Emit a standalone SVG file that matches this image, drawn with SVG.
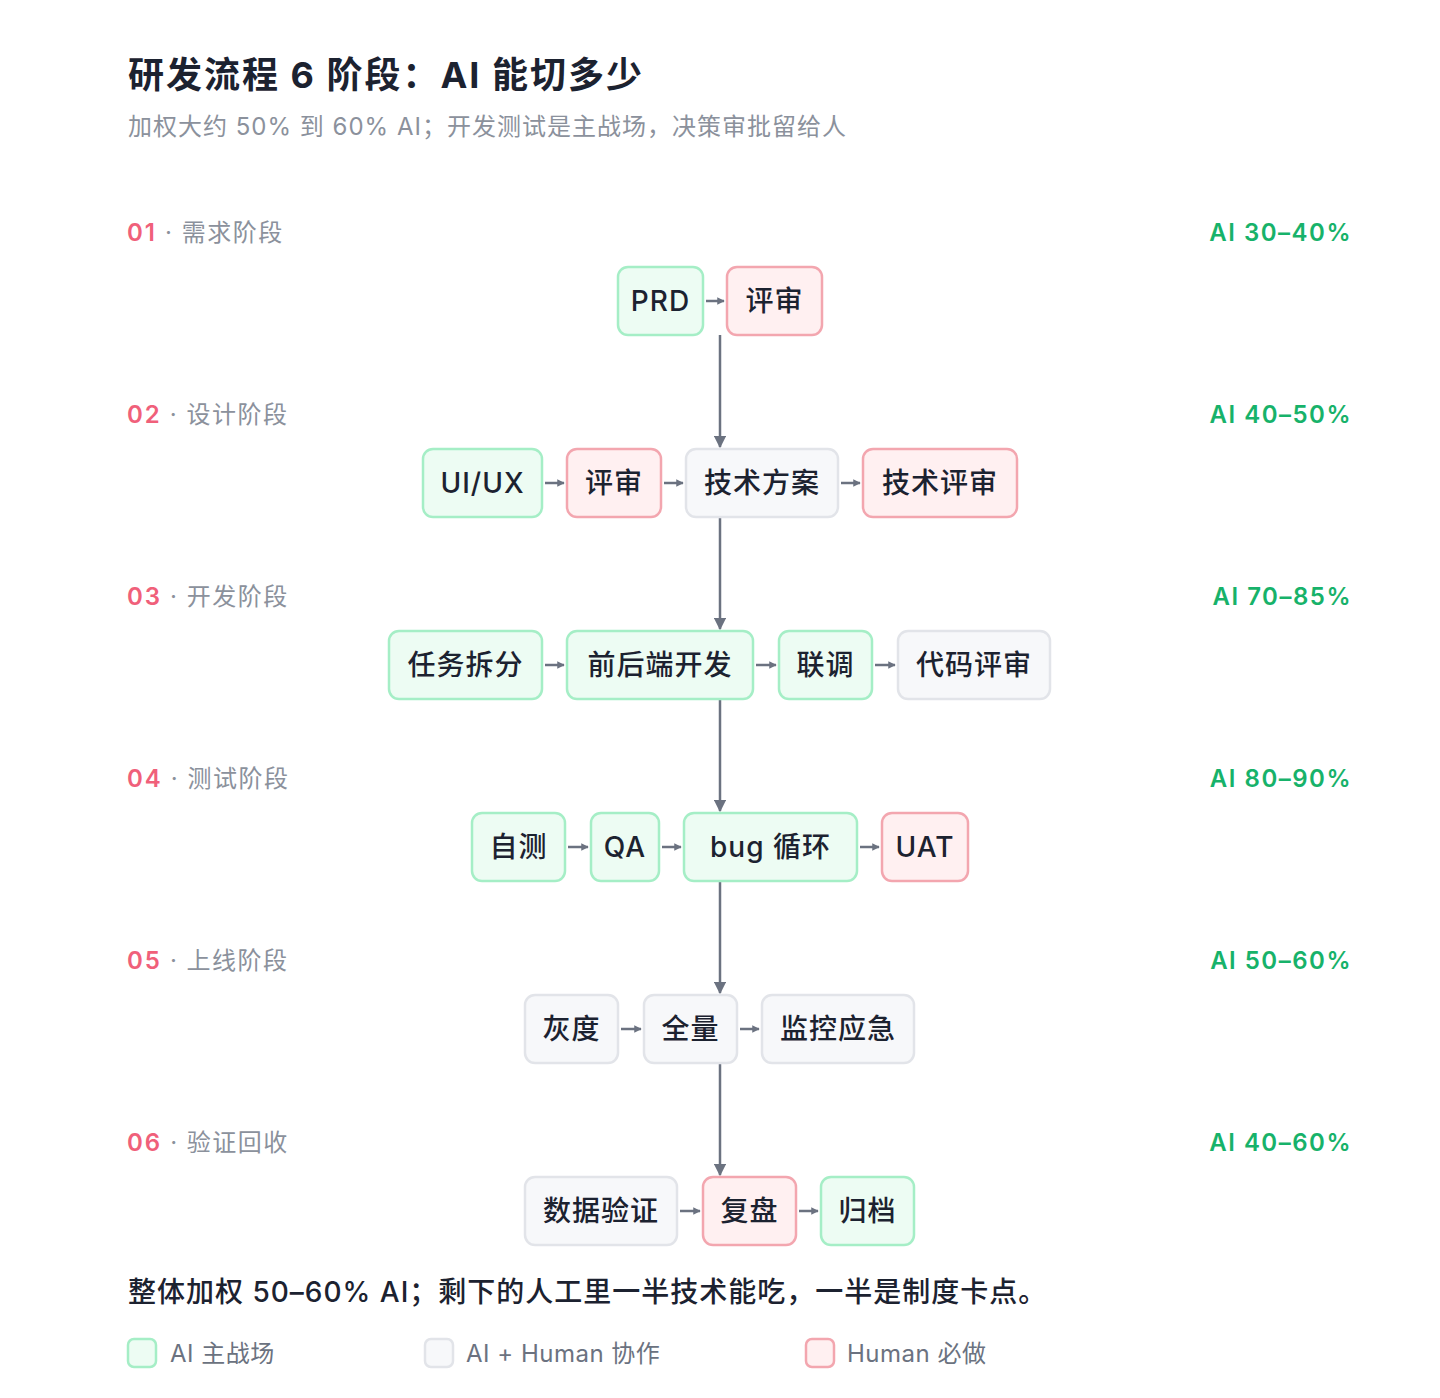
<svg xmlns="http://www.w3.org/2000/svg" width="1440" height="1398" viewBox="0 0 1440 1398">
<style>
text{font-family:Inter,"Noto Sans CJK SC","Noto Sans",sans-serif}
.g rect{fill:#edfcf3;stroke:#a5eec6;stroke-width:2.5}
.h rect{fill:#f7f8fa;stroke:#e2e4e9;stroke-width:2.5}
.r rect{fill:#fff0f1;stroke:#f3a6af;stroke-width:2.5}
.n text{font-size:28px;fill:#1c2230;text-anchor:middle;font-weight:500;letter-spacing:1px}
.num{font-size:24px;fill:#f0607a;font-weight:600;letter-spacing:2px}
.st{font-size:24px;fill:#8b919c;letter-spacing:1.5px}
.pct{font-size:24px;fill:#17b26a;font-weight:600;text-anchor:end;letter-spacing:1.5px}
.lg{font-size:24px;fill:#6b7280;letter-spacing:0.5px}
#conn line{stroke:#6b7280;stroke-width:2.5}
</style>
<defs>
<marker id="a" viewBox="0 0 10 10" refX="9" refY="5" markerWidth="5" markerHeight="5" orient="auto"><path d="M0,0L10,5L0,10z" fill="#6b7280"/></marker>
<marker id="b" viewBox="0 0 10 10" refX="9" refY="5" markerWidth="3" markerHeight="3" orient="auto"><path d="M0,0L10,5L0,10z" fill="#6b7280"/></marker>
</defs>
<rect width="1440" height="1398" fill="#fff"/>
<text x="128" y="88" font-size="36" font-weight="700" fill="#1c2230" letter-spacing="2">研发流程 6 阶段：AI 能切多少</text>
<text x="128" y="135" font-size="24" fill="#8b919c" letter-spacing="1">加权大约 50% 到 60% AI；开发测试是主战场，决策审批留给人</text>
<g id="stages">
<text x="127" y="241"><tspan class="num">01</tspan><tspan class="st" dx="8">·  需求阶段</tspan></text>
<text x="127" y="423"><tspan class="num">02</tspan><tspan class="st" dx="8">·  设计阶段</tspan></text>
<text x="127" y="605"><tspan class="num">03</tspan><tspan class="st" dx="8">·  开发阶段</tspan></text>
<text x="127" y="787"><tspan class="num">04</tspan><tspan class="st" dx="8">·  测试阶段</tspan></text>
<text x="127" y="969"><tspan class="num">05</tspan><tspan class="st" dx="8">·  上线阶段</tspan></text>
<text x="127" y="1151"><tspan class="num">06</tspan><tspan class="st" dx="8">·  验证回收</tspan></text>
<text class="pct" x="1352" y="241">AI 30–40%</text>
<text class="pct" x="1352" y="423">AI 40–50%</text>
<text class="pct" x="1352" y="605">AI 70–85%</text>
<text class="pct" x="1352" y="787">AI 80–90%</text>
<text class="pct" x="1352" y="969">AI 50–60%</text>
<text class="pct" x="1352" y="1151">AI 40–60%</text>
</g>
<g id="conn">
<line x1="720" y1="335" x2="720" y2="447" marker-end="url(#a)"/>
<line x1="720" y1="517" x2="720" y2="629" marker-end="url(#a)"/>
<line x1="720" y1="699" x2="720" y2="811" marker-end="url(#a)"/>
<line x1="720" y1="881" x2="720" y2="993" marker-end="url(#a)"/>
<line x1="720" y1="1063" x2="720" y2="1175" marker-end="url(#a)"/>
<line x1="706" y1="301" x2="724" y2="301" marker-end="url(#b)"/>
<line x1="545" y1="483" x2="564" y2="483" marker-end="url(#b)"/>
<line x1="664" y1="483" x2="683" y2="483" marker-end="url(#b)"/>
<line x1="841" y1="483" x2="860" y2="483" marker-end="url(#b)"/>
<line x1="545" y1="665" x2="564" y2="665" marker-end="url(#b)"/>
<line x1="756" y1="665" x2="776" y2="665" marker-end="url(#b)"/>
<line x1="875" y1="665" x2="895" y2="665" marker-end="url(#b)"/>
<line x1="568" y1="847" x2="588" y2="847" marker-end="url(#b)"/>
<line x1="662" y1="847" x2="681" y2="847" marker-end="url(#b)"/>
<line x1="860" y1="847" x2="879" y2="847" marker-end="url(#b)"/>
<line x1="621" y1="1029" x2="641" y2="1029" marker-end="url(#b)"/>
<line x1="740" y1="1029" x2="759" y2="1029" marker-end="url(#b)"/>
<line x1="680" y1="1211" x2="700" y2="1211" marker-end="url(#b)"/>
<line x1="799" y1="1211" x2="818" y2="1211" marker-end="url(#b)"/>
</g>
<g id="n1" class="n g"><rect x="618" y="267" width="85" height="68" rx="10"/><text x="660.5" y="311">PRD</text></g>
<g id="n2" class="n r"><rect x="727" y="267" width="95" height="68" rx="10"/><text x="774.5" y="311">评审</text></g>
<g id="n3" class="n g"><rect x="423" y="449" width="119" height="68" rx="10"/><text x="482.5" y="493">UI/UX</text></g>
<g id="n4" class="n r"><rect x="567" y="449" width="94" height="68" rx="10"/><text x="614" y="493">评审</text></g>
<g id="n5" class="n h"><rect x="686" y="449" width="152" height="68" rx="10"/><text x="762" y="493">技术方案</text></g>
<g id="n6" class="n r"><rect x="863" y="449" width="154" height="68" rx="10"/><text x="940" y="493">技术评审</text></g>
<g id="n7" class="n g"><rect x="389" y="631" width="153" height="68" rx="10"/><text x="465.5" y="675">任务拆分</text></g>
<g id="n8" class="n g"><rect x="567" y="631" width="186" height="68" rx="10"/><text x="660" y="675">前后端开发</text></g>
<g id="n9" class="n g"><rect x="779" y="631" width="93" height="68" rx="10"/><text x="825.5" y="675">联调</text></g>
<g id="n10" class="n h"><rect x="898" y="631" width="152" height="68" rx="10"/><text x="974" y="675">代码评审</text></g>
<g id="n11" class="n g"><rect x="472" y="813" width="93" height="68" rx="10"/><text x="518.5" y="857">自测</text></g>
<g id="n12" class="n g"><rect x="591" y="813" width="68" height="68" rx="10"/><text x="625" y="857">QA</text></g>
<g id="n13" class="n g"><rect x="684" y="813" width="173" height="68" rx="10"/><text x="770.5" y="857">bug 循环</text></g>
<g id="n14" class="n r"><rect x="882" y="813" width="86" height="68" rx="10"/><text x="925" y="857">UAT</text></g>
<g id="n15" class="n h"><rect x="525" y="995" width="93" height="68" rx="10"/><text x="571.5" y="1039">灰度</text></g>
<g id="n16" class="n h"><rect x="644" y="995" width="93" height="68" rx="10"/><text x="690.5" y="1039">全量</text></g>
<g id="n17" class="n h"><rect x="762" y="995" width="152" height="68" rx="10"/><text x="838" y="1039">监控应急</text></g>
<g id="n18" class="n h"><rect x="525" y="1177" width="152" height="68" rx="10"/><text x="601" y="1221">数据验证</text></g>
<g id="n19" class="n r"><rect x="703" y="1177" width="93" height="68" rx="10"/><text x="749.5" y="1221">复盘</text></g>
<g id="n20" class="n g"><rect x="821" y="1177" width="93" height="68" rx="10"/><text x="867.5" y="1221">归档</text></g>
<text x="128" y="1302" font-size="28" font-weight="500" fill="#1c2230" letter-spacing="1">整体加权 50–60% AI；剩下的人工里一半技术能吃，一半是制度卡点。</text>
<g id="legend">
<g class="g"><rect x="128" y="1339" width="28" height="28" rx="6"/></g>
<text class="lg" x="170" y="1362">AI 主战场</text>
<g class="h"><rect x="425" y="1339" width="28" height="28" rx="6"/></g>
<text class="lg" x="466" y="1362">AI + Human 协作</text>
<g class="r"><rect x="806" y="1339" width="28" height="28" rx="6"/></g>
<text class="lg" x="847" y="1362">Human 必做</text>
</g>
</svg>
